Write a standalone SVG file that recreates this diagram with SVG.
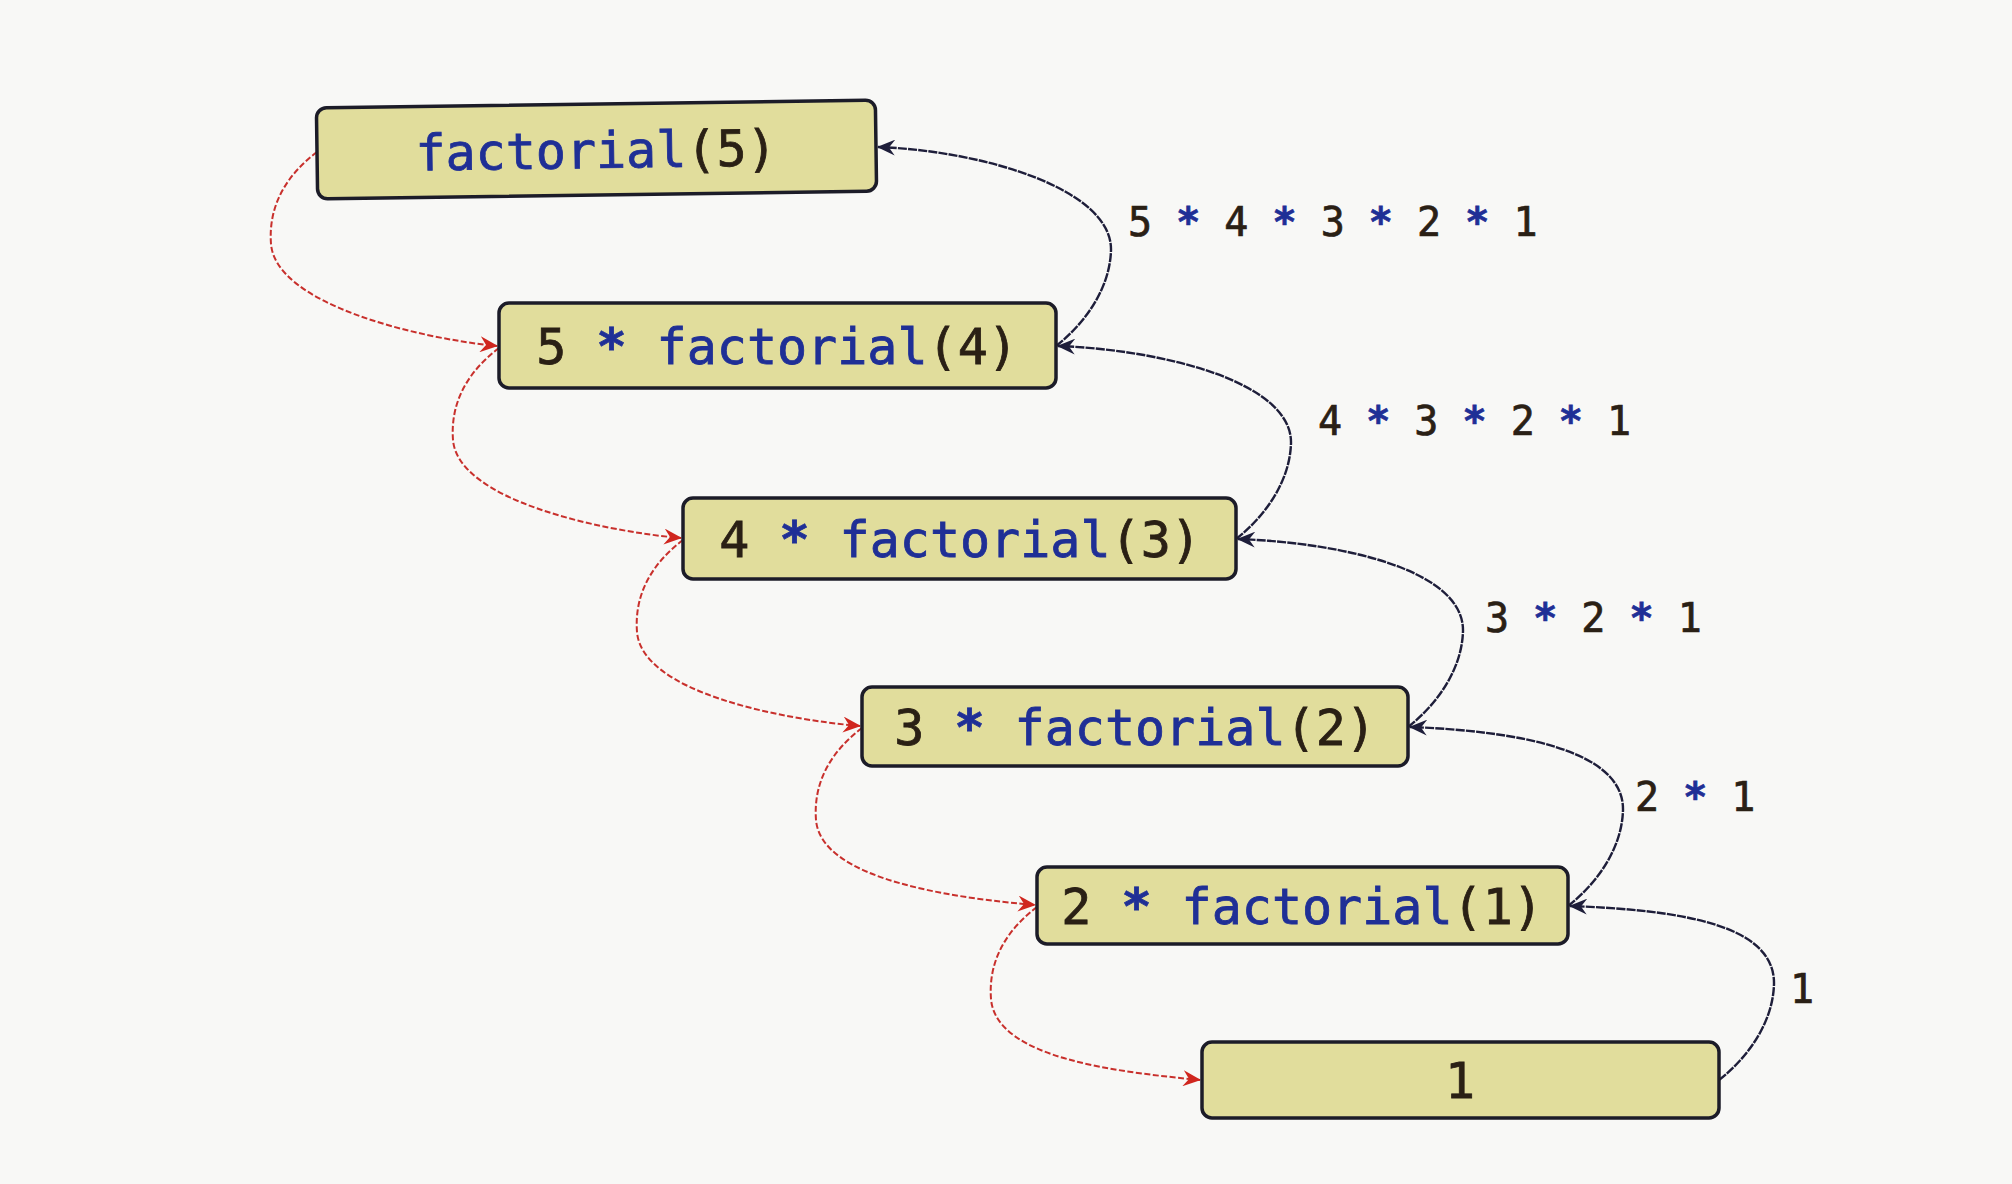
<svg xmlns="http://www.w3.org/2000/svg" width="2012" height="1184" viewBox="0 0 2012 1184">
<style>
.box{fill:#e1dd9c;stroke:#1c1c28;stroke-width:3.5}
.code{font-family:"DejaVu Sans Mono","Liberation Mono",monospace;font-size:50px;fill:#2a2015;stroke:#2a2015;stroke-width:0.8}
.lbl{font-family:"DejaVu Sans Mono","Liberation Mono",monospace;font-size:40px;fill:#2a2015;stroke:#2a2015;stroke-width:0.7}
.b{fill:#1f2f96;stroke:#1f2f96}
.st{font-weight:bold}
.ret{fill:none;stroke:#1e1e3a;stroke-width:2.4;stroke-dasharray:9 1.2}
.call{fill:none;stroke:#c8302c;stroke-width:2;stroke-dasharray:6 2.5}
</style>
<defs>
<marker id="ab" markerUnits="userSpaceOnUse" markerWidth="18" markerHeight="16" viewBox="0 0 18 16" refX="17" refY="8" orient="auto">
<path d="M0,0 L18,8 L0,16 L6,8 z" fill="#1e1e3a"/>
</marker>
<marker id="ar" markerUnits="userSpaceOnUse" markerWidth="18" markerHeight="16" viewBox="0 0 18 16" refX="17" refY="8" orient="auto">
<path d="M0,0 L18,8 L0,16 L6,8 z" fill="#d0261e"/>
</marker>
</defs>
<rect width="2012" height="1184" fill="#f8f8f6"/>
<g id="connectors">
<path class="call" d="M317,152 C288,174 268,204 271,244 C276,304 416,338 497,346" marker-end="url(#ar)"/>
<path class="call" d="M499,348 C470,370 450,400 453,440 C458,500 600,531 681,538" marker-end="url(#ar)"/>
<path class="call" d="M683,540 C654,562 634,592 637,632 C642,692 779,719 860,726" marker-end="url(#ar)"/>
<path class="call" d="M862,728 C833,750 813,780 816,820 C821,880 954,898 1035,905" marker-end="url(#ar)"/>
<path class="call" d="M1037,907 C1008,929 988,959 991,999 C996,1059 1119,1072 1200,1080" marker-end="url(#ar)"/>
<path class="ret" d="M1056,346 C1083,325 1110,290 1111,250 C1112,190 986,151 878,147" marker-end="url(#ab)"/>
<path class="ret" d="M1236,539 C1263,518 1290,483 1291,443 C1292,383 1166,350 1058,346" marker-end="url(#ab)"/>
<path class="ret" d="M1408,727 C1435,706 1462,671 1463,631 C1464,571 1346,543 1238,539" marker-end="url(#ab)"/>
<path class="ret" d="M1568,906 C1595,885 1622,850 1623,810 C1624,750 1518,731 1410,727" marker-end="url(#ab)"/>
<path class="ret" d="M1719,1080 C1746,1059 1773,1024 1774,984 C1775,924 1679,910 1570,906" marker-end="url(#ab)"/>
</g>
<g id="n1" transform="rotate(-0.8 596 150)">
<rect class="box" x="317" y="104" width="559" height="91" rx="10"/>
<text class="code" x="596" y="168" text-anchor="middle"><tspan class="b">factorial</tspan>(5)</text>
</g>
<g id="n2">
<rect class="box" x="499" y="303" width="557" height="85" rx="10"/>
<text class="code" x="777" y="364" text-anchor="middle">5 <tspan class="b st">*</tspan> <tspan class="b">factorial</tspan>(4)</text>
</g>
<g id="n3">
<rect class="box" x="683" y="498" width="553" height="81" rx="10"/>
<text class="code" x="960" y="557" text-anchor="middle">4 <tspan class="b st">*</tspan> <tspan class="b">factorial</tspan>(3)</text>
</g>
<g id="n4">
<rect class="box" x="862" y="687" width="546" height="79" rx="10"/>
<text class="code" x="1135" y="745" text-anchor="middle">3 <tspan class="b st">*</tspan> <tspan class="b">factorial</tspan>(2)</text>
</g>
<g id="n5">
<rect class="box" x="1037" y="867" width="531" height="77" rx="10"/>
<text class="code" x="1302" y="924" text-anchor="middle">2 <tspan class="b st">*</tspan> <tspan class="b">factorial</tspan>(1)</text>
</g>
<g id="n6">
<rect class="box" x="1202" y="1042" width="517" height="76" rx="10"/>
<text class="code" x="1460" y="1098" text-anchor="middle">1</text>
</g>
<g id="labels">
<text class="lbl" x="1128" y="236">5 <tspan class="b st">*</tspan> 4 <tspan class="b st">*</tspan> 3 <tspan class="b st">*</tspan> 2 <tspan class="b st">*</tspan> 1</text>
<text class="lbl" x="1318" y="435">4 <tspan class="b st">*</tspan> 3 <tspan class="b st">*</tspan> 2 <tspan class="b st">*</tspan> 1</text>
<text class="lbl" x="1485" y="632">3 <tspan class="b st">*</tspan> 2 <tspan class="b st">*</tspan> 1</text>
<text class="lbl" x="1635" y="811">2 <tspan class="b st">*</tspan> 1</text>
<text class="lbl" x="1790" y="1003">1</text>
</g>
</svg>
